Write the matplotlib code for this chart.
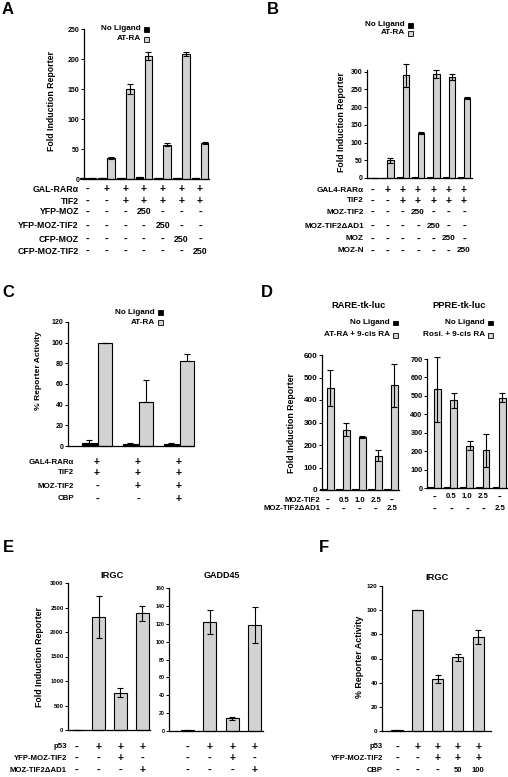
import matplotlib
matplotlib.use('Agg')
import matplotlib.pyplot as plt
from matplotlib.patches import Rectangle
from matplotlib.transforms import blended_transform_factory
import numpy as np

# ---------------- data ----------------
# Panel A
a_noligand = [1, 1, 1, 3, 1, 2, 1]
a_noligand_err = [0, 0, 0, 1, 0, 0.5, 0]
a_atra = [1, 35, 150, 205, 57, 208, 60]
a_atra_err = [0, 1.5, 8, 6, 2.5, 3, 2]
a_yticks = [0, 50, 100, 150, 200, 250]
a_rows = ['GAL-RARα', 'TIF2', 'YFP-MOZ', 'YFP-MOZ-TIF2', 'CFP-MOZ', 'CFP-MOZ-TIF2']
a_cells = [['-', '+', '+', '+', '+', '+', '+'],
           ['-', '-', '+', '+', '+', '+', '+'],
           ['-', '-', '-', '250', '-', '-', '-'],
           ['-', '-', '-', '-', '250', '-', '-'],
           ['-', '-', '-', '-', '-', '250', '-'],
           ['-', '-', '-', '-', '-', '-', '250']]

# Panel B
b_noligand = [1, 1, 4, 3, 4, 3, 3]
b_atra = [1, 50, 290, 127, 293, 285, 225]
b_atra_err = [0, 7, 32, 3, 12, 9, 3]
b_yticks = [0, 50, 100, 150, 200, 250, 300]
b_rows = ['GAL4-RARα', 'TIF2', 'MOZ-TIF2', 'MOZ-TIF2ΔAD1', 'MOZ', 'MOZ-N']
b_cells = [['-', '+', '+', '+', '+', '+', '+'],
           ['-', '-', '+', '+', '+', '+', '+'],
           ['-', '-', '-', '250', '-', '-', '-'],
           ['-', '-', '-', '-', '250', '-', '-'],
           ['-', '-', '-', '-', '-', '250', '-'],
           ['-', '-', '-', '-', '-', '-', '250']]

# Panel C
c_noligand = [3, 2, 2]
c_noligand_err = [2.5, 0.6, 0.8]
c_atra = [100, 43, 82]
c_atra_err = [0, 21, 7]
c_yticks = [0, 20, 40, 60, 80, 100, 120]
c_rows = ['GAL4-RARα', 'TIF2', 'MOZ-TIF2', 'CBP']
c_cells = [['+', '+', '+'],
           ['+', '+', '+'],
           ['-', '+', '+'],
           ['-', '-', '+']]

# Panel D
d1_noligand = [3, 3, 3, 5, 3]
d1_lig = [455, 268, 237, 153, 465]
d1_lig_err = [80, 30, 5, 25, 95]
d1_yticks = [0, 100, 200, 300, 400, 500, 600]
d2_noligand = [5, 5, 5, 5, 5]
d2_lig = [535, 475, 230, 205, 490]
d2_lig_err = [175, 40, 25, 90, 25]
d2_yticks = [0, 100, 200, 300, 400, 500, 600, 700]
d_rows = ['MOZ-TIF2', 'MOZ-TIF2ΔAD1']
d_cells = [['-', '0.5', '1.0', '2.5', '-'],
           ['-', '-', '-', '-', '2.5']]

# Panel E
e1_vals = [5, 2300, 760, 2380]
e1_err = [0, 430, 90, 150]
e1_yticks = [0, 500, 1000, 1500, 2000, 2500, 3000]
e2_vals = [1, 122, 14, 119]
e2_err = [0, 13, 1.5, 20]
e2_yticks = [0, 20, 40, 60, 80, 100, 120, 140, 160]
e_rows = ['p53', 'YFP-MOZ-TIF2', 'MOZ-TIF2ΔAD1']
e_cells = [['-', '+', '+', '+'],
           ['-', '-', '+', '-'],
           ['-', '-', '-', '+']]

# Panel F
f_vals = [0.5, 100, 43, 61, 78]
f_err = [0, 0, 3, 3, 6]
f_yticks = [0, 20, 40, 60, 80, 100, 120]
f_rows = ['p53', 'YFP-MOZ-TIF2', 'CBP']
f_cells = [['-', '+', '+', '+', '+'],
           ['-', '-', '+', '+', '+'],
           ['-', '-', '-', '50', '100']]

# ---------------- style ----------------
W, H = 508, 777
plt.rcParams['font.family'] = ['Liberation Sans', 'DejaVu Sans']
plt.rcParams['font.weight'] = 'bold'
GRAY = '#d2d2d2'
BLACK = '#000000'

fig = plt.figure(figsize=(W / 100, H / 100), dpi=100)


def fx(x):
    return x / W


def fy(y):
    return 1 - y / H


def make_ax(x0, y_top, x1, y_bot, xlim, ylim, yticks, tsize=5):
    ax = fig.add_axes([fx(x0), fy(y_bot), (x1 - x0) / W, (y_bot - y_top) / H])
    ax.patch.set_alpha(0)
    ax.set_xlim(*xlim)
    ax.set_ylim(*ylim)
    ax.set_yticks(yticks)
    ax.set_xticks([])
    for s in ['top', 'right']:
        ax.spines[s].set_visible(False)
    for s in ['left', 'bottom']:
        ax.spines[s].set_linewidth(0.9)
    ax.tick_params(axis='y', length=2, width=0.7, labelsize=tsize, pad=1.2)
    for lab in ax.get_yticklabels():
        lab.set_fontweight('bold')
    return ax


def bars(ax, xs, vals, err, color, width, sym=True):
    cont = ax.bar(xs, vals, width=width, color=color, edgecolor='black', linewidth=0.8, zorder=2)
    for p in cont.patches:
        p.set_clip_on(False)
    if err is not None:
        e = np.asarray(err, dtype=float)
        yerr = e if sym else [np.zeros_like(e), e]
        ax.errorbar(xs, vals, yerr=yerr, fmt='none', ecolor='black', elinewidth=0.8,
                    capsize=2, capthick=0.8, zorder=3, clip_on=False)


def table(ax, rows, cells, ys, label_x, xs, fs=5.6, pfs=7.5, dfs=8):
    tr = blended_transform_factory(ax.transData, fig.transFigure)
    for r, y in enumerate(ys):
        if rows is not None:
            fig.text(fx(label_x), fy(y), rows[r], ha='right', va='center',
                     fontsize=fs, fontweight='bold')
        for i, c in enumerate(cells[r]):
            size = pfs if c == '+' else (dfs if c == '-' else fs)
            ax.text(xs[i], fy(y), c, transform=tr, ha='center', va='center',
                    fontsize=size, fontweight='bold', clip_on=False)


def legend(right_x, ys, labels, colors, fs=5.9):
    sw, sh = 5.5, 5
    for y, lab, col in zip(ys, labels, colors):
        fig.patches.append(Rectangle((fx(right_x - sw), fy(y + sh / 2)), sw / W, sh / H,
                                     transform=fig.transFigure, facecolor=col,
                                     edgecolor='black', lw=0.6))
        fig.text(fx(right_x - sw - 2.5), fy(y), lab, ha='right', va='center',
                 fontsize=fs, fontweight='bold')


def ylabel(x, y, text, fs=6.3):
    fig.text(fx(x), fy(y), text, rotation=90, ha='center', va='center',
             fontsize=fs, fontweight='bold')


def title(x, y, text, fs=6.7):
    fig.text(fx(x), fy(y), text, ha='center', va='center', fontsize=fs, fontweight='bold')


def letter(x, y, text):
    fig.text(fx(x), fy(y), text, ha='center', va='center', fontsize=12, fontweight='bold')


# ---------------- Panel A ----------------
n = len(a_atra)
xa = np.arange(n)
ax = make_ax(84, 29, 209, 179, (-0.21, 6.48), (0, 250), a_yticks)
bars(ax, xa - 0.24, a_noligand, a_noligand_err, BLACK, 0.42)
bars(ax, xa + 0.24, a_atra, a_atra_err, GRAY, 0.42)
table(ax, a_rows, a_cells, [189, 201, 212, 226, 239, 251], 79, xa, fs=6.3)
legend(149, [29, 39], ['No Ligand', 'AT-RA'], [BLACK, GRAY])
ylabel(52, 101, 'Fold Induction Reporter')
letter(8, 10, 'A')

# ---------------- Panel B ----------------
xb = np.arange(len(b_atra))
ax = make_ax(367, 70, 472, 178, (-0.33, 6.52), (0, 305), b_yticks)
bars(ax, xb - 0.2, b_noligand, None, BLACK, 0.4)
bars(ax, xb + 0.2, b_atra, b_atra_err, GRAY, 0.42)
table(ax, b_rows, b_cells, [190, 201, 212, 226, 239, 251], 364, xb, fs=5.85)
legend(413, [25, 33], ['No Ligand', 'AT-RA'], [BLACK, GRAY])
ylabel(341, 122, 'Fold Induction Reporter')
letter(273, 10, 'B')

# ---------------- Panel C ----------------
xc = np.arange(len(c_atra))
ax = make_ax(68, 322, 193, 446, (-0.71, 2.34), (0, 120), c_yticks)
bars(ax, xc - 0.19, c_noligand, c_noligand_err, BLACK, 0.37, sym=False)
bars(ax, xc + 0.19, c_atra, c_atra_err, GRAY, 0.35, sym=False)
table(ax, c_rows, c_cells, [462, 473, 486, 499], 74, xc, fs=5.7)
legend(163, [312, 322], ['No Ligand', 'AT-RA'], [BLACK, GRAY])
ylabel(39, 371, '% Reporter Activity', fs=6.1)
letter(8, 292, 'C')

# ---------------- Panel D ----------------
xd = np.arange(len(d1_lig))
ax = make_ax(322, 355, 399, 490, (-0.31, 4.5), (0, 600), d1_yticks, tsize=5.8)
bars(ax, xd - 0.21, d1_noligand, None, BLACK, 0.4)
bars(ax, xd + 0.21, d1_lig, d1_lig_err, GRAY, 0.42)
table(ax, d_rows, d_cells, [500, 509], 320, xd + 0.05, fs=5.6)
legend(398, [323, 335], ['No Ligand', 'AT-RA + 9-cis RA'], [BLACK, GRAY])
title(359, 306, 'RARE-tk-luc')
ylabel(292, 423, 'Fold Induction Reporter')

ax = make_ax(427, 359, 508, 488, (-0.43, 4.55), (0, 700), d2_yticks, tsize=5.3)
bars(ax, xd - 0.2, d2_noligand, None, BLACK, 0.4)
bars(ax, xd + 0.2, d2_lig, d2_lig_err, GRAY, 0.42)
table(ax, None, d_cells, [497, 509], 0, xd + 0.05, fs=5.6)
legend(493, [323, 335], ['No Ligand', 'Rosi. + 9-cis RA'], [BLACK, GRAY])
title(459, 306, 'PPRE-tk-luc')
letter(267, 292, 'D')

# ---------------- Panel E ----------------
xe = np.arange(len(e1_vals))
ax = make_ax(68, 583, 150, 730, (-0.41, 3.36), (0, 3000), e1_yticks, tsize=4.2)
bars(ax, xe, e1_vals, e1_err, GRAY, 0.6)
table(ax, e_rows, e_cells, [747, 758, 770], 67, xe, fs=5.6)
title(112, 576, 'IRGC')
ylabel(40, 657, 'Fold Induction Reporter')

ax = make_ax(169, 588, 263, 731, (-0.8, 3.36), (0, 160), e2_yticks, tsize=3.8)
bars(ax, xe, e2_vals, e2_err, GRAY, 0.58)
table(ax, None, e_cells, [747, 758, 770], 0, xe, fs=5.6)
title(222, 575, 'GADD45', fs=6.5)
letter(8, 548, 'E')

# ---------------- Panel F ----------------
xf = np.arange(len(f_vals))
ax = make_ax(382, 586, 491, 731, (-0.74, 4.63), (0, 120), f_yticks, tsize=4.6)
bars(ax, xf, f_vals, f_err, GRAY, 0.55)
table(ax, f_rows, f_cells, [747, 758, 770], 383, xf, fs=5.5)
title(437, 577, 'IRGC')
ylabel(360, 657, '% Reporter Activity', fs=6.4)
letter(324, 548, 'F')

fig.savefig('out.png', dpi=100)
